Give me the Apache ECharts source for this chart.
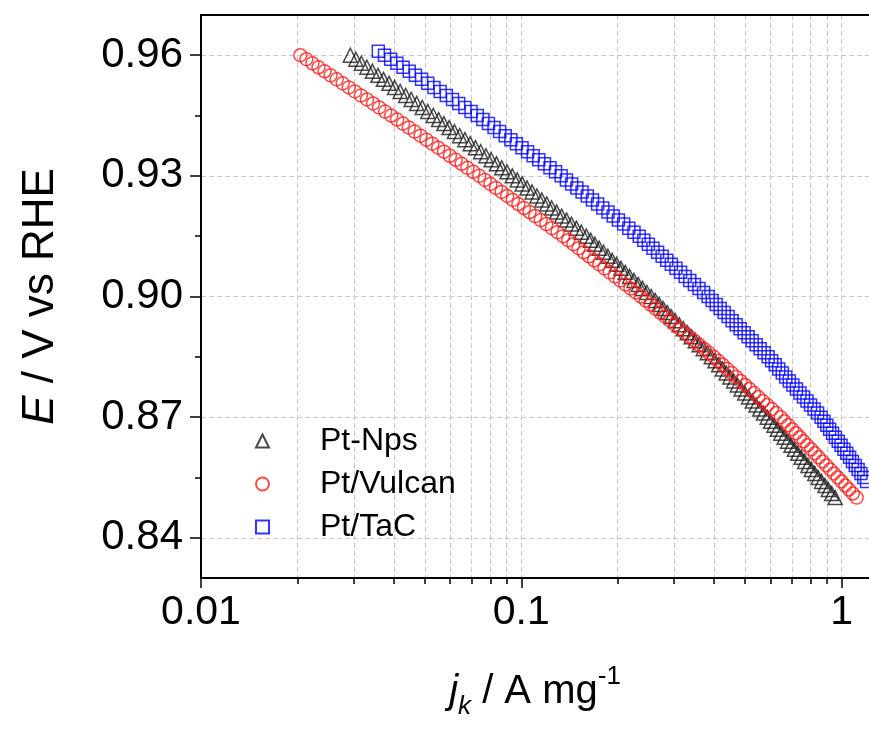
<!DOCTYPE html>
<html>
<head>
<meta charset="utf-8">
<script src="https://cdn.jsdelivr.net/npm/echarts@6/dist/echarts.min.js"></script>
<style>
html,body{margin:0;padding:0;background:#fff;}
#chart{width:869px;height:731px;}
</style>
</head>
<body>
<div id="chart"></div>
<script>
// ---- data ----
const seriesNames = ['Pt-Nps', 'Pt/Vulcan', 'Pt/TaC'];

const potentialE = [0.960,0.959,0.958,0.957,0.956,0.955,0.954,0.953,0.952,0.951,0.950,0.949,0.948,0.947,0.946,0.945,
0.944,0.943,0.942,0.941,0.940,0.939,0.938,0.937,0.936,0.935,0.934,0.933,0.932,0.931,0.930,
0.929,0.928,0.927,0.926,0.925,0.924,0.923,0.922,0.921,0.920,0.919,0.918,0.917,0.916,0.915,
0.914,0.913,0.912,0.911,0.910,0.909,0.908,0.907,0.906,0.905,0.904,0.903,0.902,0.901,0.900,
0.899,0.898,0.897,0.896,0.895,0.894,0.893,0.892,0.891,0.890,0.889,0.888,0.887,0.886,0.885,
0.884,0.883,0.882,0.881,0.880,0.879,0.878,0.877,0.876,0.875,0.874,0.873,0.872,0.871,0.870,
0.869,0.868,0.867,0.866,0.865,0.864,0.863,0.862,0.861,0.860,0.859,0.858,0.857,0.856,0.855,0.854,0.853,0.852,0.851,0.850];

const potentialTaC = [0.961,0.960,0.959,0.958,0.957,0.956,0.955,0.954,0.953,0.952,0.951,0.950,0.949,0.948,0.947,0.946,0.945,
0.944,0.943,0.942,0.941,0.940,0.939,0.938,0.937,0.936,0.935,0.934,0.933,0.932,0.931,0.930,
0.929,0.928,0.927,0.926,0.925,0.924,0.923,0.922,0.921,0.920,0.919,0.918,0.917,0.916,0.915,
0.914,0.913,0.912,0.911,0.910,0.909,0.908,0.907,0.906,0.905,0.904,0.903,0.902,0.901,0.900,
0.899,0.898,0.897,0.896,0.895,0.894,0.893,0.892,0.891,0.890,0.889,0.888,0.887,0.886,0.885,
0.884,0.883,0.882,0.881,0.880,0.879,0.878,0.877,0.876,0.875,0.874,0.873,0.872,0.871,0.870,
0.869,0.868,0.867,0.866,0.865,0.864,0.863,0.862,0.861,0.860,0.859,0.858,0.857,0.856,0.855,0.854,0.853,0.852,0.851,0.850];

const jPtNps = [0.02925,0.03044,0.03167,0.03295,0.03429,0.03568,0.03713,0.03864,0.04021,0.04184,0.04354,0.04531,0.04715,0.04906,0.05105,0.05312,
0.05517,0.05730,0.05951,0.06181,0.06419,0.06667,0.06924,0.07191,0.07468,0.07756,0.08055,0.08366,0.08688,0.09023,0.09371,
0.09709,0.1006,0.1042,0.1080,0.1119,0.1159,0.1201,0.1244,0.1289,0.1336,0.1384,0.1434,0.1486,0.1539,0.1595,
0.1645,0.1697,0.1751,0.1806,0.1863,0.1922,0.1983,0.2046,0.2111,0.2178,0.2247,0.2318,0.2391,0.2467,0.2545,
0.2619,0.2695,0.2774,0.2855,0.2938,0.3024,0.3112,0.3203,0.3296,0.3392,0.3491,0.3593,0.3698,0.3806,0.3917,
0.4023,0.4133,0.4245,0.4360,0.4479,0.4601,0.4726,0.4854,0.4986,0.5122,0.5261,0.5404,0.5551,0.5702,0.5857,
0.6002,0.6150,0.6302,0.6458,0.6618,0.6782,0.6950,0.7122,0.7298,0.7478,0.7663,0.7852,0.8046,0.8245,0.8449,0.8658,0.8872,0.9091,0.9316,0.9546];

const jPtVulcan = [0.02042,0.02133,0.02228,0.02327,0.02431,0.02539,0.02652,0.02770,0.02893,0.03022,0.03157,0.03298,0.03445,0.03598,0.03758,0.03926,
0.04095,0.04271,0.04455,0.04647,0.04847,0.05056,0.05274,0.05501,0.05738,0.05985,0.06243,0.06512,0.06792,0.07084,0.07389,
0.07692,0.08008,0.08337,0.08679,0.09035,0.09406,0.09792,0.1019,0.1061,0.1105,0.1150,0.1197,0.1246,0.1297,0.1350,
0.1401,0.1454,0.1509,0.1566,0.1626,0.1688,0.1752,0.1819,0.1888,0.1960,0.2035,0.2112,0.2192,0.2275,0.2362,
0.2446,0.2533,0.2623,0.2716,0.2813,0.2913,0.3017,0.3124,0.3235,0.3350,0.3469,0.3592,0.3720,0.3852,0.3989,
0.4119,0.4253,0.4392,0.4535,0.4683,0.4836,0.4994,0.5157,0.5325,0.5499,0.5678,0.5863,0.6054,0.6251,0.6455,
0.6634,0.6818,0.7007,0.7201,0.7400,0.7605,0.7816,0.8032,0.8254,0.8483,0.8718,0.8959,0.9207,0.9462,0.9724,0.9993,1.027,1.055,1.084,1.114];

const jPtTaC = [0.03577,0.03740,0.03910,0.04088,0.04274,0.04468,0.04671,0.04883,0.05105,0.05337,0.05580,0.05834,0.06099,0.06376,0.06666,0.06969,0.07286,
0.07585,0.07896,0.08220,0.08558,0.08909,0.09275,0.09656,0.1005,0.1046,0.1089,0.1134,0.1181,0.1229,0.1279,0.1332,
0.1383,0.1436,0.1491,0.1548,0.1607,0.1668,0.1731,0.1797,0.1865,0.1936,0.2010,0.2087,0.2166,0.2248,0.2334,
0.2412,0.2493,0.2577,0.2664,0.2753,0.2846,0.2941,0.3040,0.3142,0.3248,0.3357,0.3470,0.3587,0.3707,0.3832,
0.3944,0.4059,0.4177,0.4299,0.4424,0.4553,0.4686,0.4823,0.4963,0.5108,0.5257,0.5410,0.5568,0.5730,0.5897,
0.6049,0.6204,0.6364,0.6527,0.6695,0.6867,0.7044,0.7225,0.7411,0.7601,0.7797,0.7997,0.8203,0.8414,0.8630,
0.8809,0.8991,0.9177,0.9367,0.9561,0.9758,0.9960,1.017,1.038,1.059,1.081,1.103,1.126,1.149,1.173,1.197,1.222,1.247,1.273,1.299];

const xTickMajor = [0.01, 0.1, 1];
const xTickLabels = ['0.01', '0.1', '1'];
const xTickMinor = [0.02,0.03,0.04,0.05,0.06,0.07,0.08,0.09,0.2,0.3,0.4,0.5,0.6,0.7,0.8,0.9];
const yTickMajor = [0.84, 0.87, 0.90, 0.93, 0.96];
const yTickMinor = [0.855, 0.885, 0.915, 0.945];

// ---- layout / style ----
const X_MIN = 0.01, X_MAX = 1.2176, Y_MIN = 0.83, Y_MAX = 0.97;
const FONT = '"Liberation Sans", Arial, sans-serif';
const gridLine = { show: true, lineStyle: { color: '#c8c8c8', width: 1, type: [5, 3] } };
const lg = v => Math.log10(v);

const chart = echarts.init(document.getElementById('chart'), null, { renderer: 'canvas' });

const labelMap = {};
xTickMajor.forEach((v, i) => { labelMap[lg(v).toFixed(3)] = xTickLabels[i]; });

const option = {
  backgroundColor: '#fff',
  animation: false,
  grid: { left: 201, right: 0, top: 15, bottom: 153, containLabel: false },
  legend: {
    orient: 'vertical',
    left: 250, top: 419,
    itemWidth: 13, itemHeight: 13, itemGap: 9,
    data: seriesNames,
    textStyle: { fontFamily: FONT, fontSize: 32, color: '#000', lineHeight: 34, padding: [0, 0, 0, 46] }
  },
  xAxis: [
    { // data axis (log)
      type: 'log', logBase: 10, min: X_MIN, max: X_MAX, show: false,
      axisLine: { onZero: false }, splitLine: { show: false }
    },
    { // major ticks / labels (log10 space)
      type: 'value', min: lg(X_MIN), max: lg(X_MAX), position: 'bottom',
      axisLine: { show: true, onZero: false, lineStyle: { color: '#000', width: 2 } },
      axisTick: { show: true, length: 10, inside: false, lineStyle: { color: '#000', width: 1.5 },
                  customValues: xTickMajor.map(lg) },
      axisLabel: { show: true, customValues: xTickMajor.map(lg), margin: 14,
                   fontFamily: FONT, fontSize: 41, color: '#000',
                   formatter: v => labelMap[Number(v).toFixed(3)] || '' },
      splitLine: gridLine,
      name: '{it|j}{sub|k}{n| / A mg}{sup|-1}',
      nameLocation: 'middle', nameGap: 86,
      nameTextStyle: {
        fontFamily: FONT, color: '#000',
        rich: {
          it: { fontSize: 40, fontStyle: 'italic', fontFamily: FONT, lineHeight: 56 },
          n: { fontSize: 40, fontFamily: FONT, lineHeight: 56 },
          sub: { fontSize: 26, fontStyle: 'italic', fontFamily: FONT, lineHeight: 24, verticalAlign: 'bottom' },
          sup: { fontSize: 26, fontFamily: FONT, lineHeight: 24, verticalAlign: 'top' }
        }
      }
    },
    { // minor ticks + grid
      type: 'value', min: lg(X_MIN), max: lg(X_MAX), position: 'bottom',
      axisLine: { show: false, onZero: false },
      axisTick: { show: true, length: 6, inside: false, lineStyle: { color: '#000', width: 1.5 },
                  customValues: xTickMinor.map(lg) },
      axisLabel: { show: false },
      splitLine: gridLine
    },
    { // top frame
      type: 'value', min: lg(X_MIN), max: lg(X_MAX), position: 'top',
      axisLine: { show: true, onZero: false, lineStyle: { color: '#000', width: 2 } },
      axisTick: { show: false }, axisLabel: { show: false }, splitLine: { show: false }
    }
  ],
  yAxis: [
    {
      type: 'value', min: Y_MIN, max: Y_MAX, position: 'left',
      axisLine: { show: true, onZero: false, lineStyle: { color: '#000', width: 2 } },
      axisTick: { show: true, length: 11, inside: false, lineStyle: { color: '#000', width: 1.5 },
                  customValues: yTickMajor },
      axisLabel: { show: true, customValues: yTickMajor, margin: 18,
                   fontFamily: FONT, fontSize: 42, color: '#000',
                   formatter: v => Number(v).toFixed(2) },
      splitLine: gridLine,
      name: '{it|E}{n| / V vs RHE}',
      nameLocation: 'middle', nameGap: 138, nameRotate: 90,
      nameTextStyle: {
        fontFamily: FONT, color: '#000',
        rich: {
          it: { fontSize: 44, fontStyle: 'italic', fontFamily: FONT },
          n: { fontSize: 44, fontFamily: FONT }
        }
      }
    },
    {
      type: 'value', min: Y_MIN, max: Y_MAX, position: 'left',
      axisLine: { show: false, onZero: false },
      axisTick: { show: true, length: 6, inside: false, lineStyle: { color: '#000', width: 1.5 },
                  customValues: yTickMinor },
      axisLabel: { show: false },
      splitLine: { show: false }
    }
  ],
  series: [
    {
      name: seriesNames[0], type: 'scatter', xAxisIndex: 0, yAxisIndex: 0,
      symbol: 'triangle', symbolSize: 14,
      itemStyle: { color: 'transparent', borderColor: '#1a1a1a', borderWidth: 1.5 },
      data: jPtNps.map((j, i) => [j, potentialE[i]])
    },
    {
      name: seriesNames[1], type: 'scatter', xAxisIndex: 0, yAxisIndex: 0,
      symbol: 'circle', symbolSize: 13,
      itemStyle: { color: 'transparent', borderColor: '#ff1a1a', borderWidth: 1.5 },
      data: jPtVulcan.map((j, i) => [j, potentialE[i]])
    },
    {
      name: seriesNames[2], type: 'scatter', xAxisIndex: 0, yAxisIndex: 0,
      symbol: 'rect', symbolSize: 12,
      itemStyle: { color: 'transparent', borderColor: '#0000ff', borderWidth: 1.5 },
      data: jPtTaC.map((j, i) => [j, potentialTaC[i]])
    }
  ]
};
chart.setOption(option);
</script>
</body>
</html>
